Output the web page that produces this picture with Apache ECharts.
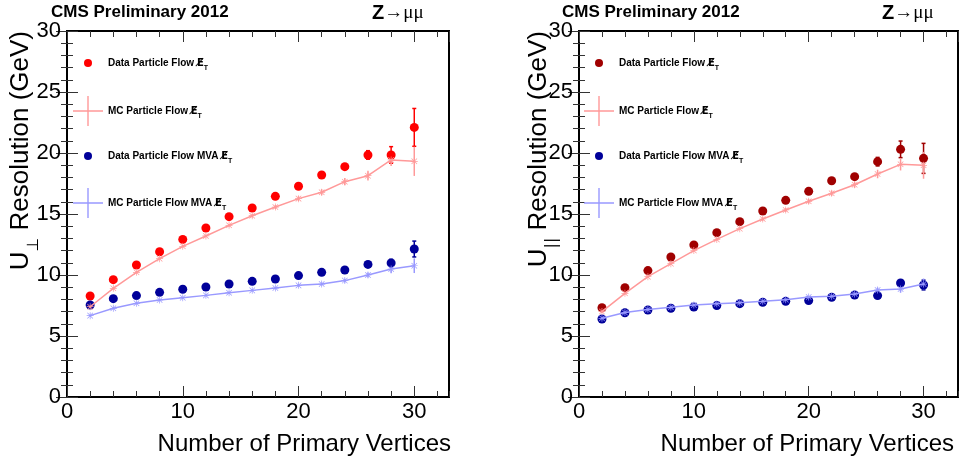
<!DOCTYPE html>
<html>
  <head>
    <meta charset="utf-8">
    <title>U resolution vs number of primary vertices</title>
    <script src="https://cdn.jsdelivr.net/npm/echarts@6/dist/echarts.min.js"></script>
  </head>
  <style media="screen">
    html,body {
      margin: 0;
      padding: 0;
      background: #fff;
    }
    #chart {
      width: 963px;
      height: 463px;
    }
  </style>
  <body>
    <div id="chart"></div>

    <script type="text/javascript">
      // number of primary vertices (bin centres)
      var nPV = [2, 4, 6, 8, 10, 12, 14, 16, 18, 20, 22, 24, 26, 28, 30];

      // U perp resolution (GeV)
      var perpData = [8.28, 9.62, 10.82, 11.91, 12.92, 13.85, 14.78, 15.49, 16.45, 17.27, 18.2, 18.88, 19.84, 19.84, 22.1];
      var perpDataErr = [0.05, 0.05, 0.05, 0.05, 0.05, 0.06, 0.07, 0.08, 0.1, 0.12, 0.15, 0.2, 0.35, 0.68, 1.55];
      var perpMC = [7.4, 8.91, 10.22, 11.34, 12.35, 13.2, 14.07, 14.86, 15.57, 16.26, 16.78, 17.65, 18.14, 19.43, 19.32];
      var perpMCErr = [0.1, 0.1, 0.1, 0.1, 0.1, 0.1, 0.12, 0.14, 0.16, 0.2, 0.25, 0.3, 0.4, 0.5, 1.2];
      var perpMva = [7.54, 8.06, 8.31, 8.58, 8.83, 9.02, 9.26, 9.48, 9.67, 9.95, 10.22, 10.41, 10.87, 10.98, 12.13];
      var perpMvaErr = [0.04, 0.04, 0.04, 0.04, 0.04, 0.05, 0.05, 0.06, 0.07, 0.08, 0.1, 0.12, 0.15, 0.3, 0.65];
      var perpMvaMC = [6.67, 7.27, 7.68, 7.95, 8.14, 8.33, 8.55, 8.74, 8.93, 9.15, 9.26, 9.54, 10.0, 10.49, 10.76];
      var perpMvaMCErr = [0.05, 0.05, 0.05, 0.05, 0.05, 0.06, 0.07, 0.08, 0.09, 0.1, 0.12, 0.15, 0.2, 0.35, 0.6];

      // U parallel resolution (GeV)
      var parData = [7.32, 8.96, 10.36, 11.48, 12.46, 13.47, 14.37, 15.25, 16.12, 16.86, 17.73, 18.06, 19.29, 20.3, 19.56];
      var parDataErr = [0.05, 0.05, 0.05, 0.05, 0.05, 0.06, 0.07, 0.08, 0.1, 0.12, 0.15, 0.2, 0.35, 0.68, 1.23];
      var parMC = [7.0, 8.5, 9.86, 10.93, 12.0, 12.92, 13.8, 14.59, 15.33, 16.04, 16.7, 17.4, 18.28, 19.07, 18.99];
      var parMCErr = [0.1, 0.1, 0.1, 0.1, 0.1, 0.1, 0.12, 0.14, 0.16, 0.2, 0.22, 0.25, 0.35, 0.5, 1.1];
      var parMva = [6.39, 6.91, 7.13, 7.27, 7.38, 7.49, 7.65, 7.76, 7.84, 7.9, 8.17, 8.36, 8.31, 9.34, 9.18];
      var parMvaErr = [0.04, 0.04, 0.04, 0.04, 0.04, 0.05, 0.05, 0.06, 0.07, 0.08, 0.1, 0.12, 0.15, 0.2, 0.4];
      var parMvaMC = [6.45, 6.93, 7.18, 7.35, 7.54, 7.65, 7.73, 7.84, 7.98, 8.2, 8.25, 8.44, 8.77, 8.85, 9.26];
      var parMvaMCErr = [0.05, 0.05, 0.05, 0.05, 0.05, 0.06, 0.07, 0.08, 0.09, 0.1, 0.12, 0.15, 0.2, 0.3, 0.45];

      var names = ['Data Particle Flow', 'MC Particle Flow', 'Data Particle Flow MVA', 'MC Particle Flow MVA'];

      var font = 'Liberation Sans';
      var tickColor = '#333';
      var pink = '#ff9999', lightBlue = '#9999ff', navy = '#000099';
      var starIcon = 'path://M0,4.5h10v1h-10zM4.5,0h1v10h-1zM0.7,1.4L1.4,0.7L9.3,8.6L8.6,9.3zM8.6,0.7L9.3,1.4L1.4,9.3L0.7,8.6z';
      var crossIcon = 'path://M0,14.3h30v1.4h-30zM14.3,0h1.4v30h-1.4z';

      function pts(vals, errs) {
        return nPV.map(function (x, i) { return [x, vals[i], errs[i]]; });
      }

      // vertical error bars, drawn through the axes
      function errBars(cap) {
        return function (params, api) {
          var x = api.value(0), y = api.value(1), e = api.value(2);
          var lo = api.coord([x, y - e]);
          var hi = api.coord([x, y + e]);
          var st = { stroke: api.visual('color'), lineWidth: 1.5 };
          var kids = [{ type: 'line', shape: { x1: lo[0], y1: lo[1], x2: hi[0], y2: hi[1] }, style: st }];
          if (cap && e > 0.2) {
            kids.push({ type: 'line', shape: { x1: lo[0] - 2, y1: lo[1], x2: lo[0] + 2, y2: lo[1] }, style: st });
            kids.push({ type: 'line', shape: { x1: hi[0] - 2, y1: hi[1], x2: hi[0] + 2, y2: hi[1] }, style: st });
          }
          return { type: 'group', children: kids };
        };
      }

      function xAxes(gi, gap) {
        var list = [];
        ['bottom', 'top'].forEach(function (pos) {
          list.push({
            type: 'value', gridIndex: gi, position: pos, min: 0, max: 33, interval: 10,
            axisLine: { show: false }, splitLine: { show: false },
            axisTick: { inside: true, length: 11, lineStyle: { color: tickColor } },
            axisLabel: { show: pos === 'bottom', showMaxLabel: false, fontFamily: font, fontSize: 22, color: '#000', margin: 4 }
          });
          list.push({
            type: 'value', gridIndex: gi, position: pos, min: 0, max: 33, interval: 2,
            axisLine: { show: false }, splitLine: { show: false },
            axisTick: { inside: true, length: 6, lineStyle: { color: tickColor } },
            axisLabel: { show: false }
          });
        });
        list[0].name = 'Number of Primary Vertices';
        list[0].nameLocation = 'end';
        list[0].nameGap = gap;
        list[0].nameTextStyle = { fontFamily: font, fontSize: 24, color: '#000', align: 'right', verticalAlign: 'top', padding: [35, 0, 0, 0] };
        return list;
      }

      function yAxes(gi) {
        return ['left', 'right'].map(function (pos) {
          return {
            type: 'value', gridIndex: gi, position: pos, min: 0, max: 30, interval: 5,
            axisLine: { show: false }, splitLine: { show: false },
            axisTick: { inside: true, length: 11, lineStyle: { color: tickColor } },
            minorTick: { show: true, splitNumber: 5, length: 6, lineStyle: { color: tickColor } },
            axisLabel: { show: pos === 'left', fontFamily: font, fontSize: 22, color: '#000', margin: 6 }
          };
        });
      }

      function panelSeries(xi, yi, dataColor, sets) {
        var colors = [dataColor, pink, navy, lightBlue];
        var out = [];
        sets.forEach(function (s, k) {
          var isData = k % 2 === 0;
          out.push({
            type: 'custom', name: names[k], xAxisIndex: xi, yAxisIndex: yi,
            renderItem: errBars(isData), itemStyle: { color: colors[k] },
            encode: { x: 0, y: 1 }, data: pts(s[0], s[1]), z: 2
          });
          if (isData) {
            out.push({
              type: 'scatter', name: names[k], xAxisIndex: xi, yAxisIndex: yi,
              symbol: 'circle', symbolSize: 9, itemStyle: { color: colors[k], opacity: 1 },
              data: pts(s[0], s[1]), z: 3
            });
          } else {
            out.push({
              type: 'line', name: names[k], xAxisIndex: xi, yAxisIndex: yi,
              symbol: starIcon, symbolSize: 7, itemStyle: { color: colors[k] },
              lineStyle: { color: colors[k], width: 1.5 },
              data: pts(s[0], s[1]), z: 4
            });
          }
        });
        return out;
      }

      // one legend per entry so each row sits where the reference has it
      function legendEntry(k, color, cx, cy) {
        var isData = k % 2 === 0;
        var w = isData ? 8 : 30;
        return {
          left: cx - w / 2, top: cy - (isData ? 6 : 15), padding: 0, orient: 'vertical',
          selectedMode: false, itemWidth: w, itemHeight: isData ? 8 : 30,
          icon: isData ? 'circle' : crossIcon,
          data: [{ name: names[k], itemStyle: { color: color, opacity: 1 } }],
          formatter: function (n) { return n + ' {e|E\u0338}{t|T}'; },
          textStyle: {
            fontFamily: font, fontSize: 10, fontWeight: 'bold', color: '#000',
            padding: [0, 0, 0, isData ? 11 : 0],
            rich: {
              e: { fontFamily: 'DejaVu Sans', fontSize: 10, fontWeight: 'bold', color: '#000' },
              t: { fontFamily: font, fontSize: 7, color: '#000', verticalAlign: 'bottom', lineHeight: 18 }
            }
          }
        };
      }

      var rows = [64, 111, 157, 203];
      var legends = [];
      [['#ff0000', 88], ['#a00000', 599]].forEach(function (p) {
        var cols = [p[0], pink, navy, lightBlue];
        rows.forEach(function (cy, k) { legends.push(legendEntry(k, cols[k], p[1], cy)); });
      });

      function yTitle(x, sub) {
        return {
          type: 'text', x: x, y: 31, rotation: Math.PI / 2,
          style: {
            text: 'U{s|' + sub + '} Resolution (GeV)',
            fontFamily: font, fontSize: 26, fill: '#000', align: 'right', verticalAlign: 'middle',
            rich: { s: { fontFamily: 'DejaVu Sans', fontSize: 16, fill: '#000', verticalAlign: 'bottom', lineHeight: 42 } }
          }
        };
      }

      function header(x, zx) {
        return [
          { type: 'text', x: x, y: 12, style: { text: 'CMS Preliminary 2012', fontFamily: font, fontSize: 17, fontWeight: 'bold', fill: '#000', verticalAlign: 'middle' } },
          { type: 'text', x: zx, y: 13, style: {
            text: '{z|Z}{r|\u2192\u03bc\u03bc}', verticalAlign: 'middle',
            rich: {
              z: { fontFamily: font, fontSize: 20, fontWeight: 'bold', fill: '#000' },
              r: { fontFamily: 'Liberation Serif', fontSize: 19, fill: '#000' }
            }
          } }
        ];
      }

      var chart = echarts.init(document.getElementById('chart'));
      chart.setOption({
        animation: false,
        backgroundColor: '#fff',
        grid: [
          { left: 67, right: 514, top: 31, bottom: 66, show: true, borderColor: '#000', borderWidth: 2, containLabel: false },
          { left: 579, right: 5, top: 31, bottom: 66, show: true, borderColor: '#000', borderWidth: 2, containLabel: false }
        ],
        xAxis: xAxes(0, 2).concat(xAxes(1, -4)),
        yAxis: yAxes(0).concat(yAxes(1)),
        legend: legends,
        graphic: [yTitle(21, '\u22a5'), yTitle(539, '||')].concat(header(51, 372), header(562, 882)),
        series: panelSeries(0, 0, '#ff0000', [
          [perpData, perpDataErr], [perpMC, perpMCErr], [perpMva, perpMvaErr], [perpMvaMC, perpMvaMCErr]
        ]).concat(panelSeries(4, 2, '#a00000', [
          [parData, parDataErr], [parMC, parMCErr], [parMva, parMvaErr], [parMvaMC, parMvaMCErr]
        ]))
      });
    </script>
  </body>
</html>
